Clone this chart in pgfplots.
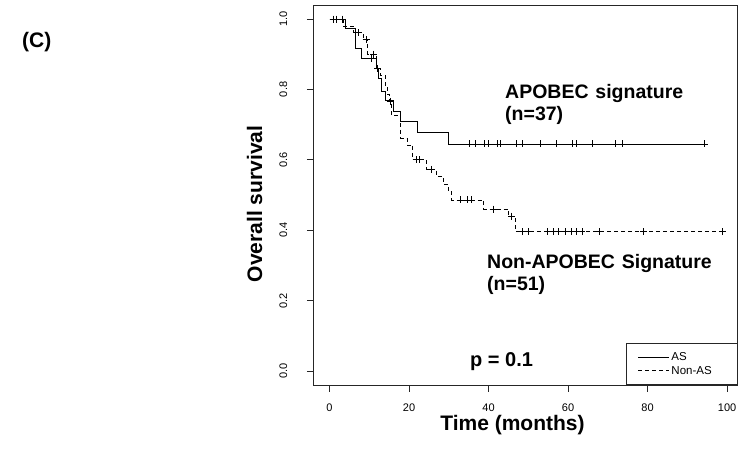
\documentclass[border=0pt]{standalone}
\usepackage{fontspec}
\setmainfont{Liberation Sans}
\usepackage{pgfplots}
\pgfplotsset{compat=1.18}
\begin{document}
\begin{tikzpicture}[x=1bp,y=1bp]
\path[use as bounding box] (0,0) rectangle (738,457);
\begin{axis}[
  at={(313.8bp,72bp)}, anchor=south west, scale only axis,
  width=424bp, height=380bp,
  xmin=-3.95, xmax=102.7, ymin=-0.04, ymax=1.04,
  xtick={0,20,40,60,80,100}, ytick={0,0.2,0.4,0.6,0.8,1},
  /pgf/number format/assume math mode=true,
  y tick label style={/pgf/number format/fixed, /pgf/number format/fixed zerofill, /pgf/number format/precision=1, rotate=90, anchor=south, yshift=16bp},
  x tick label style={inner sep=0pt, yshift=-11.5bp},
  tick align=outside, major tick length=7bp, xtick pos=left, ytick pos=left,
  tick style={black!85, line width=0.75bp},
  axis line style={black!85, line width=0.75bp},
  tick label style={font=\fontsize{11bp}{13bp}\selectfont},
  legend style={at={(rel axis cs:1,0)}, anchor=south east, draw=black!85,
    line width=0.75bp, fill=white, font=\fontsize{11.5bp}{13bp}\selectfont,
    inner xsep=11bp, inner ysep=7bp, row sep=0pt},
  legend cell align=left,
  legend image code/.code={\draw[#1] (0bp,0bp) -- (21bp,0bp); \path (0bp,0bp) -- (31bp,0bp);},
]
\addplot[const plot, black, line width=0.8bp] coordinates {
(0,1) (3.9,0.973) (6.4,0.917) (7.9,0.888) (11.9,0.860) (12.4,0.831)
(13.0,0.793) (14.0,0.770) (16.0,0.737) (17.9,0.708) (22.1,0.677)
(30.0,0.645) (94.2,0.645)};
\addlegendentry{\makebox[53bp][l]{AS}}
\addplot[const plot, black, line width=0.8bp, dash pattern=on 4bp off 3bp] coordinates {
(0,1) (3.5,0.980) (6.0,0.961) (8.5,0.941) (9.6,0.900) (11.8,0.860)
(12.8,0.840) (14.0,0.808) (14.6,0.785) (15.1,0.765) (15.6,0.727)
(17.9,0.662) (19.5,0.642) (20.9,0.600) (24.3,0.573) (27.0,0.552)
(28.6,0.530) (30.0,0.509) (30.7,0.486) (38.8,0.460) (45.0,0.440)
(46.7,0.396) (98.8,0.396)};
\addlegendentry{\makebox[53bp][l]{Non-AS}}
\addplot[only marks, mark=+, mark size=3.5bp, black, mark options={solid, line width=0.7bp}, forget plot] coordinates {
(0.9,1) (1.6,1) (10.5,0.888) (12.1,0.860)
(35.1,0.645) (36.6,0.645) (38.9,0.645) (39.9,0.645) (42.3,0.645) (42.9,0.645)
(47.0,0.645) (48.6,0.645) (53.0,0.645) (57.1,0.645) (61.2,0.645) (62.2,0.645)
(66.2,0.645) (72.0,0.645) (73.7,0.645) (94.2,0.645)};
\addplot[only marks, mark=+, mark size=3.5bp, black, mark options={solid, line width=0.7bp}, forget plot] coordinates {
(3.3,1) (7.2,0.961) (9.2,0.941) (11.1,0.900) (15.3,0.765)
(21.8,0.600) (22.6,0.600) (25.7,0.573)
(33.0,0.486) (34.7,0.486) (35.6,0.486) (41.2,0.460) (45.8,0.440)
(48.5,0.396) (50.0,0.396) (54.8,0.396) (56.3,0.396) (57.5,0.396) (59.2,0.396)
(60.8,0.396) (62.0,0.396) (63.5,0.396) (67.8,0.396) (79.0,0.396) (98.8,0.396)};
\end{axis}
\tikzset{lab/.style={inner sep=0pt, font=\bfseries\fontsize{19.5bp}{22bp}\selectfont}}
\node[lab, anchor=base west, font=\bfseries\fontsize{21bp}{24bp}\selectfont] at (22,409) {(C)};
\node[lab, anchor=base, font=\bfseries\fontsize{21bp}{24bp}\selectfont] at (512.5,26.5) {Time (months)};
\node[lab, anchor=base, rotate=90, font=\bfseries\fontsize{21bp}{24bp}\selectfont] at (262,253) {Overall survival};
\node[lab, anchor=base west] at (505,358.7) {APOBEC\hspace{0.35em}signature};
\node[lab, anchor=base west] at (505,336) {(n=37)};
\node[lab, anchor=base west] at (487,188.7) {Non-APOBEC\hspace{0.35em}Signature};
\node[lab, anchor=base west] at (487,166.3) {(n=51)};
\node[lab, anchor=base west, font=\bfseries\fontsize{20bp}{22bp}\selectfont] at (470,90.3) {p = 0.1};
\end{tikzpicture}
\end{document}
